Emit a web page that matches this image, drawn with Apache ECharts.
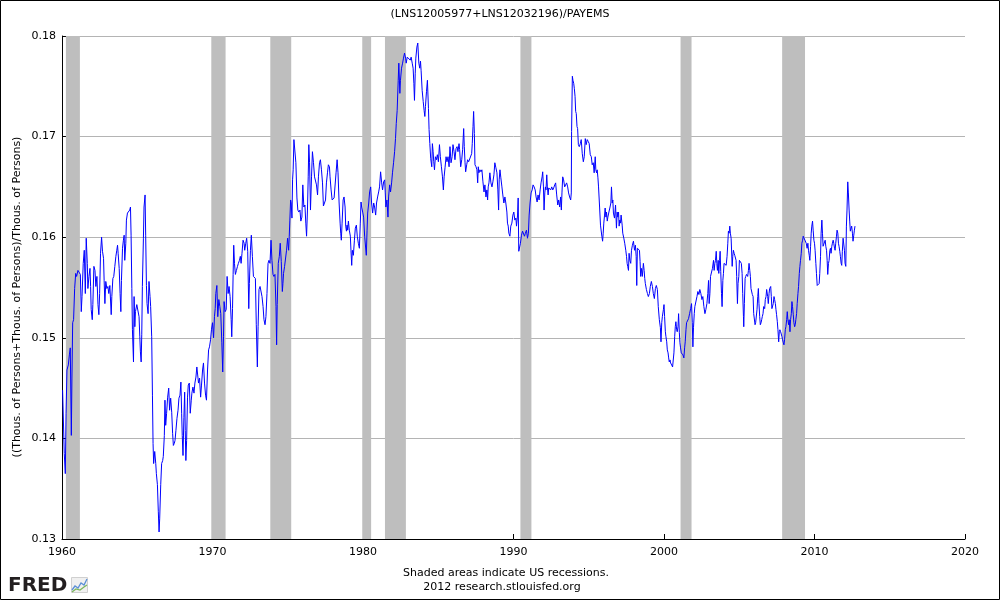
<!DOCTYPE html>
<html>
<head>
<meta charset="utf-8">
<title>(LNS12005977+LNS12032196)/PAYEMS</title>
<script src="https://cdn.jsdelivr.net/npm/echarts/dist/echarts.min.js"></script>
<style>
  html, body { margin: 0; padding: 0; background: #fff; }
  #chart { width: 1000px; height: 600px; }
</style>
</head>
<body>
<div id="chart"></div>
<script>
// ratio, [decimal year, value]
var seg1960s = [[1960.04,0.1448],[1960.15,0.1385],[1960.22,0.1365],[1960.27,0.1425],[1960.33,0.1468],[1960.42,0.1473],[1960.49,0.1483],[1960.55,0.1490],[1960.62,0.1403],[1960.66,0.1460],[1960.71,0.1515],[1960.77,0.1518],[1960.84,0.1549],[1960.91,0.1564],[1960.97,0.1561],[1961.06,0.1567],[1961.15,0.1567],[1961.22,0.1563],[1961.28,0.1526],[1961.33,0.1541],[1961.41,0.1574],[1961.48,0.1587],[1961.55,0.1544],[1961.61,0.1599],[1961.68,0.1574],[1961.72,0.1549],[1961.79,0.1561],[1961.86,0.1569],[1961.90,0.1551],[1961.94,0.1528],[1962.01,0.1518],[1962.05,0.1533],[1962.12,0.1571],[1962.19,0.1567],[1962.25,0.1551],[1962.32,0.1561],[1962.39,0.1533],[1962.45,0.1523],[1962.50,0.1544],[1962.56,0.1584],[1962.63,0.1600],[1962.69,0.1586],[1962.76,0.1579],[1962.80,0.1557],[1962.85,0.1534],[1962.91,0.1556],[1962.98,0.1549],[1963.05,0.1551],[1963.11,0.1544],[1963.18,0.1552],[1963.27,0.1523],[1963.31,0.1541],[1963.38,0.1559],[1963.44,0.1561],[1963.51,0.1571],[1963.58,0.1581],[1963.64,0.1587],[1963.69,0.1592],[1963.73,0.1584],[1963.80,0.1569],[1963.86,0.1544],[1963.91,0.1526],[1963.95,0.1557],[1964.02,0.1589],[1964.08,0.1597],[1964.13,0.1602],[1964.17,0.1577],[1964.24,0.1594],[1964.28,0.1617],[1964.35,0.1624],[1964.44,0.1624],[1964.50,0.1627],[1964.55,0.1630],[1964.59,0.1602],[1964.64,0.1549],[1964.68,0.1508],[1964.75,0.1476],[1964.79,0.1541],[1964.84,0.1511],[1964.88,0.1526],[1964.97,0.1533],[1965.06,0.1533],[1965.12,0.1521],[1965.17,0.1501],[1965.21,0.1486],[1965.26,0.1476],[1965.30,0.1503],[1965.34,0.1551],[1965.41,0.1599],[1965.45,0.1630],[1965.52,0.1642],[1965.56,0.1602],[1965.61,0.1552],[1965.65,0.1534],[1965.72,0.1524],[1965.78,0.1556],[1965.85,0.1541],[1965.89,0.1531],[1965.96,0.1501],[1966.01,0.1443],[1966.05,0.1395],[1966.09,0.1375],[1966.16,0.1387],[1966.23,0.1375],[1966.27,0.1365],[1966.34,0.1354],[1966.40,0.1327],[1966.45,0.1307],[1966.49,0.1320],[1966.56,0.1354],[1966.62,0.1375],[1966.69,0.1378],[1966.73,0.1382],[1966.80,0.1403],[1966.84,0.1438],[1966.89,0.1413],[1966.95,0.1425],[1967.02,0.1441],[1967.09,0.1450],[1967.15,0.1428],[1967.22,0.1440],[1967.29,0.1426],[1967.35,0.1405],[1967.40,0.1393],[1967.46,0.1395],[1967.51,0.1398],[1967.57,0.1408],[1967.64,0.1420],[1967.71,0.1428],[1967.77,0.1440],[1967.84,0.1443],[1967.90,0.1456],[1967.95,0.1425],[1967.99,0.1403],[1968.04,0.1383],[1968.10,0.1421],[1968.15,0.1446],[1968.19,0.1408],[1968.23,0.1378],[1968.28,0.1398],[1968.34,0.1441],[1968.39,0.1453],[1968.46,0.1455],[1968.52,0.1425],[1968.59,0.1438],[1968.63,0.1445],[1968.70,0.1451],[1968.77,0.1445],[1968.83,0.1455],[1968.90,0.1461],[1968.96,0.1471],[1969.03,0.1461],[1969.07,0.1455],[1969.14,0.1460],[1969.21,0.1441],[1969.27,0.1453],[1969.34,0.1468],[1969.40,0.1475],[1969.47,0.1455],[1969.54,0.1443],[1969.60,0.1438],[1969.67,0.1468],[1969.74,0.1488],[1969.80,0.1491],[1969.87,0.1498],[1969.93,0.1508]];

var seg1970s = [[1970.00,0.1515],[1970.07,0.1500],[1970.13,0.1521],[1970.18,0.1529],[1970.22,0.1544],[1970.29,0.1552],[1970.35,0.1521],[1970.42,0.1538],[1970.49,0.1531],[1970.55,0.1524],[1970.62,0.1495],[1970.68,0.1466],[1970.73,0.1501],[1970.77,0.1536],[1970.84,0.1526],[1970.91,0.1528],[1970.97,0.1561],[1971.04,0.1544],[1971.10,0.1551],[1971.17,0.1541],[1971.24,0.1518],[1971.28,0.1501],[1971.33,0.1529],[1971.37,0.1563],[1971.41,0.1592],[1971.46,0.1574],[1971.52,0.1563],[1971.59,0.1567],[1971.66,0.1571],[1971.72,0.1574],[1971.79,0.1577],[1971.85,0.1581],[1971.90,0.1574],[1971.96,0.1584],[1972.03,0.1597],[1972.10,0.1594],[1972.14,0.1587],[1972.21,0.1594],[1972.27,0.1599],[1972.34,0.1586],[1972.41,0.1529],[1972.45,0.1554],[1972.52,0.1587],[1972.58,0.1602],[1972.65,0.1581],[1972.72,0.1561],[1972.78,0.1561],[1972.85,0.1559],[1972.91,0.1513],[1972.98,0.1471],[1973.03,0.1511],[1973.09,0.1548],[1973.16,0.1551],[1973.22,0.1551],[1973.29,0.1541],[1973.36,0.1531],[1973.42,0.1518],[1973.49,0.1513],[1973.55,0.1521],[1973.62,0.1544],[1973.69,0.1574],[1973.75,0.1577],[1973.82,0.1574],[1973.89,0.1597],[1973.95,0.1577],[1974.02,0.1563],[1974.08,0.1561],[1974.15,0.1563],[1974.22,0.1531],[1974.26,0.1493],[1974.30,0.1533],[1974.37,0.1574],[1974.44,0.1581],[1974.50,0.1594],[1974.57,0.1576],[1974.64,0.1546],[1974.68,0.1554],[1974.72,0.1564],[1974.79,0.1571],[1974.86,0.1572],[1974.92,0.1587],[1974.99,0.1599],[1975.06,0.1587],[1975.10,0.1601],[1975.14,0.1617],[1975.19,0.1637],[1975.23,0.1634],[1975.28,0.1619],[1975.32,0.1657],[1975.36,0.1667],[1975.41,0.1697],[1975.48,0.1697],[1975.54,0.1674],[1975.61,0.1639],[1975.67,0.1627],[1975.74,0.1625],[1975.81,0.1627],[1975.87,0.1616],[1975.94,0.1620],[1976.00,0.1652],[1976.07,0.1630],[1976.14,0.1632],[1976.20,0.1614],[1976.25,0.1601],[1976.31,0.1627],[1976.36,0.1660],[1976.40,0.1692],[1976.45,0.1674],[1976.51,0.1627],[1976.58,0.1660],[1976.64,0.1685],[1976.71,0.1674],[1976.78,0.1660],[1976.84,0.1660],[1976.91,0.1652],[1976.98,0.1642],[1977.04,0.1660],[1977.11,0.1674],[1977.17,0.1677],[1977.24,0.1667],[1977.31,0.1654],[1977.37,0.1631],[1977.44,0.1632],[1977.51,0.1637],[1977.57,0.1654],[1977.64,0.1664],[1977.70,0.1672],[1977.77,0.1670],[1977.81,0.1660],[1977.88,0.1647],[1977.95,0.1637],[1978.01,0.1637],[1978.08,0.1639],[1978.15,0.1639],[1978.21,0.1664],[1978.28,0.1677],[1978.34,0.1664],[1978.41,0.1635],[1978.48,0.1614],[1978.52,0.1604],[1978.56,0.1597],[1978.61,0.1614],[1978.68,0.1637],[1978.74,0.1640],[1978.81,0.1630],[1978.85,0.1611],[1978.90,0.1606],[1978.94,0.1612],[1978.98,0.1607],[1979.03,0.1616],[1979.09,0.1607],[1979.16,0.1601],[1979.20,0.1587],[1979.25,0.1572],[1979.29,0.1587],[1979.36,0.1582],[1979.43,0.1597],[1979.49,0.1609],[1979.56,0.1612],[1979.62,0.1601],[1979.69,0.1594],[1979.76,0.1589],[1979.82,0.1614],[1979.87,0.1635],[1979.91,0.1630],[1979.98,0.1625]];

var seg1980s = [[1980.04,0.1620],[1980.11,0.1601],[1980.18,0.1601],[1980.22,0.1582],[1980.27,0.1607],[1980.31,0.1624],[1980.38,0.1634],[1980.44,0.1645],[1980.51,0.1650],[1980.57,0.1634],[1980.64,0.1624],[1980.71,0.1634],[1980.77,0.1630],[1980.84,0.1622],[1980.90,0.1634],[1980.97,0.1640],[1981.04,0.1645],[1981.10,0.1650],[1981.17,0.1665],[1981.24,0.1654],[1981.30,0.1647],[1981.37,0.1655],[1981.44,0.1657],[1981.48,0.1644],[1981.52,0.1630],[1981.59,0.1637],[1981.66,0.1620],[1981.70,0.1640],[1981.77,0.1652],[1981.83,0.1645],[1981.90,0.1654],[1981.96,0.1664],[1982.03,0.1674],[1982.10,0.1685],[1982.16,0.1698],[1982.21,0.1713],[1982.27,0.1726],[1982.34,0.1756],[1982.38,0.1773],[1982.45,0.1743],[1982.49,0.1756],[1982.56,0.1768],[1982.63,0.1773],[1982.69,0.1778],[1982.76,0.1783],[1982.83,0.1778],[1982.87,0.1773],[1982.94,0.1779],[1983.00,0.1778],[1983.07,0.1779],[1983.14,0.1776],[1983.20,0.1779],[1983.27,0.1773],[1983.33,0.1768],[1983.38,0.1753],[1983.42,0.1736],[1983.47,0.1763],[1983.51,0.1778],[1983.58,0.1789],[1983.64,0.1793],[1983.71,0.1773],[1983.77,0.1768],[1983.82,0.1775],[1983.86,0.1766],[1983.93,0.1746],[1984.00,0.1735],[1984.06,0.1726],[1984.11,0.1720],[1984.15,0.1730],[1984.22,0.1745],[1984.28,0.1756],[1984.35,0.1728],[1984.39,0.1707],[1984.44,0.1693],[1984.50,0.1678],[1984.57,0.1670],[1984.61,0.1693],[1984.66,0.1685],[1984.70,0.1675],[1984.75,0.1667],[1984.81,0.1680],[1984.88,0.1677],[1984.94,0.1682],[1985.01,0.1675],[1985.08,0.1692],[1985.14,0.1680],[1985.21,0.1670],[1985.28,0.1660],[1985.34,0.1647],[1985.39,0.1660],[1985.45,0.1669],[1985.52,0.1680],[1985.58,0.1675],[1985.65,0.1680],[1985.72,0.1670],[1985.78,0.1690],[1985.85,0.1674],[1985.92,0.1680],[1985.98,0.1692],[1986.05,0.1685],[1986.11,0.1677],[1986.18,0.1688],[1986.25,0.1690],[1986.31,0.1685],[1986.38,0.1693],[1986.42,0.1687],[1986.49,0.1670],[1986.56,0.1677],[1986.62,0.1687],[1986.69,0.1708],[1986.73,0.1690],[1986.78,0.1674],[1986.82,0.1665],[1986.89,0.1672],[1986.95,0.1677],[1987.02,0.1675],[1987.09,0.1674],[1987.15,0.1675],[1987.22,0.1683],[1987.26,0.1693],[1987.31,0.1710],[1987.35,0.1725],[1987.40,0.1703],[1987.44,0.1672],[1987.51,0.1670],[1987.57,0.1667],[1987.62,0.1654],[1987.66,0.1670],[1987.70,0.1664],[1987.77,0.1667],[1987.84,0.1665],[1987.90,0.1667],[1987.97,0.1655],[1988.04,0.1645],[1988.10,0.1652],[1988.17,0.1640],[1988.23,0.1647],[1988.28,0.1637],[1988.32,0.1650],[1988.37,0.1654],[1988.43,0.1664],[1988.50,0.1654],[1988.57,0.1650],[1988.63,0.1655],[1988.70,0.1662],[1988.76,0.1674],[1988.83,0.1669],[1988.90,0.1664],[1988.96,0.1647],[1989.01,0.1627],[1989.05,0.1657],[1989.10,0.1667],[1989.16,0.1659],[1989.23,0.1650],[1989.29,0.1642],[1989.36,0.1634],[1989.43,0.1640],[1989.49,0.1634],[1989.56,0.1625],[1989.60,0.1614],[1989.65,0.1611],[1989.69,0.1604],[1989.76,0.1601],[1989.82,0.1611],[1989.89,0.1614],[1989.96,0.1622]];

var seg1990s = [[1990.02,0.1625],[1990.09,0.1617],[1990.16,0.1619],[1990.20,0.1611],[1990.27,0.1622],[1990.31,0.1639],[1990.35,0.1586],[1990.40,0.1587],[1990.46,0.1594],[1990.53,0.1602],[1990.60,0.1606],[1990.66,0.1606],[1990.73,0.1601],[1990.79,0.1604],[1990.86,0.1607],[1990.93,0.1599],[1990.99,0.1604],[1991.04,0.1622],[1991.10,0.1634],[1991.17,0.1644],[1991.24,0.1647],[1991.30,0.1652],[1991.37,0.1650],[1991.44,0.1647],[1991.50,0.1640],[1991.57,0.1635],[1991.63,0.1642],[1991.70,0.1637],[1991.77,0.1647],[1991.83,0.1654],[1991.90,0.1660],[1991.94,0.1665],[1991.99,0.1650],[1992.03,0.1627],[1992.08,0.1644],[1992.12,0.1650],[1992.16,0.1647],[1992.21,0.1662],[1992.25,0.1650],[1992.30,0.1642],[1992.34,0.1649],[1992.41,0.1650],[1992.47,0.1647],[1992.54,0.1650],[1992.61,0.1647],[1992.67,0.1649],[1992.74,0.1652],[1992.80,0.1654],[1992.87,0.1642],[1992.94,0.1632],[1993.00,0.1637],[1993.07,0.1630],[1993.13,0.1640],[1993.18,0.1627],[1993.22,0.1644],[1993.27,0.1660],[1993.33,0.1657],[1993.40,0.1650],[1993.47,0.1650],[1993.53,0.1654],[1993.60,0.1650],[1993.66,0.1644],[1993.73,0.1640],[1993.80,0.1637],[1993.84,0.1644],[1993.86,0.1705],[1993.91,0.1760],[1993.95,0.1756],[1994.00,0.1753],[1994.04,0.1748],[1994.09,0.1740],[1994.13,0.1725],[1994.17,0.1723],[1994.22,0.1710],[1994.26,0.1708],[1994.31,0.1692],[1994.37,0.1690],[1994.44,0.1693],[1994.50,0.1697],[1994.57,0.1683],[1994.64,0.1675],[1994.70,0.1680],[1994.77,0.1698],[1994.83,0.1692],[1994.90,0.1697],[1994.97,0.1695],[1995.03,0.1693],[1995.10,0.1682],[1995.17,0.1680],[1995.23,0.1672],[1995.30,0.1674],[1995.36,0.1664],[1995.43,0.1680],[1995.47,0.1667],[1995.52,0.1664],[1995.56,0.1667],[1995.61,0.1659],[1995.65,0.1650],[1995.72,0.1630],[1995.78,0.1612],[1995.83,0.1611],[1995.87,0.1601],[1995.92,0.1596],[1995.96,0.1604],[1996.00,0.1614],[1996.05,0.1622],[1996.09,0.1629],[1996.14,0.1620],[1996.18,0.1625],[1996.23,0.1616],[1996.27,0.1620],[1996.34,0.1625],[1996.40,0.1629],[1996.47,0.1634],[1996.51,0.1650],[1996.56,0.1634],[1996.60,0.1637],[1996.64,0.1624],[1996.71,0.1619],[1996.78,0.1632],[1996.84,0.1609],[1996.89,0.1625],[1996.93,0.1620],[1996.98,0.1625],[1997.02,0.1611],[1997.06,0.1617],[1997.11,0.1614],[1997.15,0.1622],[1997.22,0.1612],[1997.26,0.1604],[1997.33,0.1599],[1997.39,0.1594],[1997.46,0.1587],[1997.51,0.1581],[1997.55,0.1574],[1997.59,0.1571],[1997.64,0.1567],[1997.68,0.1584],[1997.73,0.1577],[1997.79,0.1574],[1997.84,0.1587],[1997.90,0.1592],[1997.97,0.1596],[1998.04,0.1587],[1998.10,0.1592],[1998.15,0.1581],[1998.19,0.1552],[1998.23,0.1589],[1998.30,0.1589],[1998.37,0.1587],[1998.41,0.1576],[1998.45,0.1561],[1998.50,0.1569],[1998.56,0.1561],[1998.63,0.1574],[1998.68,0.1567],[1998.72,0.1559],[1998.76,0.1554],[1998.83,0.1548],[1998.90,0.1544],[1998.96,0.1541],[1999.03,0.1544],[1999.09,0.1551],[1999.16,0.1556],[1999.23,0.1551],[1999.29,0.1544],[1999.36,0.1539],[1999.43,0.1549],[1999.49,0.1552],[1999.56,0.1548],[1999.62,0.1531],[1999.69,0.1518],[1999.76,0.1510],[1999.80,0.1496],[1999.85,0.1515],[1999.89,0.1521],[1999.96,0.1528]];

var seg2000s = [[2000.00,0.1533],[2000.04,0.1521],[2000.09,0.1506],[2000.13,0.1501],[2000.18,0.1496],[2000.22,0.1488],[2000.27,0.1485],[2000.31,0.1480],[2000.35,0.1476],[2000.40,0.1478],[2000.44,0.1475],[2000.51,0.1473],[2000.57,0.1471],[2000.62,0.1470],[2000.66,0.1485],[2000.71,0.1501],[2000.75,0.1511],[2000.79,0.1516],[2000.84,0.1508],[2000.88,0.1506],[2000.93,0.1511],[2000.97,0.1524],[2001.02,0.1505],[2001.06,0.1495],[2001.10,0.1490],[2001.15,0.1485],[2001.19,0.1486],[2001.26,0.1483],[2001.32,0.1480],[2001.37,0.1490],[2001.41,0.1496],[2001.46,0.1508],[2001.50,0.1515],[2001.57,0.1516],[2001.63,0.1519],[2001.70,0.1524],[2001.77,0.1529],[2001.83,0.1534],[2001.88,0.1515],[2001.92,0.1491],[2001.96,0.1510],[2002.01,0.1524],[2002.05,0.1531],[2002.12,0.1531],[2002.19,0.1541],[2002.25,0.1546],[2002.32,0.1543],[2002.38,0.1548],[2002.45,0.1544],[2002.52,0.1538],[2002.58,0.1541],[2002.65,0.1531],[2002.72,0.1524],[2002.78,0.1528],[2002.85,0.1534],[2002.91,0.1544],[2002.96,0.1557],[2003.00,0.1534],[2003.05,0.1544],[2003.09,0.1561],[2003.16,0.1561],[2003.22,0.1569],[2003.29,0.1577],[2003.33,0.1567],[2003.38,0.1574],[2003.42,0.1577],[2003.47,0.1586],[2003.51,0.1574],[2003.55,0.1567],[2003.60,0.1577],[2003.64,0.1564],[2003.69,0.1577],[2003.73,0.1586],[2003.77,0.1566],[2003.82,0.1544],[2003.86,0.1531],[2003.91,0.1557],[2003.95,0.1564],[2003.99,0.1574],[2004.06,0.1574],[2004.13,0.1572],[2004.19,0.1581],[2004.24,0.1594],[2004.28,0.1606],[2004.33,0.1604],[2004.37,0.1611],[2004.41,0.1604],[2004.46,0.1599],[2004.53,0.1571],[2004.57,0.1581],[2004.61,0.1587],[2004.66,0.1584],[2004.70,0.1582],[2004.75,0.1581],[2004.79,0.1577],[2004.83,0.1561],[2004.88,0.1534],[2004.92,0.1554],[2004.97,0.1561],[2005.01,0.1577],[2005.06,0.1577],[2005.10,0.1576],[2005.14,0.1574],[2005.19,0.1564],[2005.23,0.1544],[2005.28,0.1521],[2005.30,0.1511],[2005.34,0.1534],[2005.39,0.1559],[2005.43,0.1561],[2005.48,0.1563],[2005.52,0.1564],[2005.56,0.1561],[2005.61,0.1567],[2005.65,0.1574],[2005.70,0.1567],[2005.74,0.1561],[2005.78,0.1549],[2005.83,0.1548],[2005.87,0.1543],[2005.92,0.1541],[2005.96,0.1524],[2006.00,0.1523],[2006.05,0.1513],[2006.09,0.1515],[2006.14,0.1515],[2006.18,0.1528],[2006.23,0.1541],[2006.27,0.1549],[2006.31,0.1534],[2006.36,0.1521],[2006.40,0.1513],[2006.45,0.1515],[2006.49,0.1518],[2006.53,0.1521],[2006.58,0.1524],[2006.62,0.1531],[2006.69,0.1529],[2006.73,0.1538],[2006.78,0.1541],[2006.82,0.1548],[2006.89,0.1541],[2006.93,0.1534],[2006.98,0.1544],[2007.02,0.1549],[2007.09,0.1551],[2007.13,0.1541],[2007.17,0.1529],[2007.22,0.1528],[2007.26,0.1534],[2007.31,0.1541],[2007.35,0.1538],[2007.40,0.1534],[2007.44,0.1528],[2007.48,0.1523],[2007.53,0.1516],[2007.57,0.1508],[2007.62,0.1496],[2007.66,0.1506],[2007.70,0.1508],[2007.75,0.1506],[2007.79,0.1505],[2007.84,0.1501],[2007.88,0.1498],[2007.93,0.1495],[2007.97,0.1493],[2008.01,0.1498],[2008.06,0.1508],[2008.10,0.1511],[2008.15,0.1518],[2008.19,0.1526],[2008.23,0.1518],[2008.28,0.1513],[2008.32,0.1518],[2008.37,0.1506],[2008.41,0.1518],[2008.46,0.1524],[2008.50,0.1536],[2008.54,0.1531],[2008.59,0.1523],[2008.63,0.1515],[2008.68,0.1511],[2008.72,0.1513],[2008.76,0.1518],[2008.81,0.1524],[2008.85,0.1534],[2008.90,0.1544],[2008.94,0.1551],[2008.99,0.1564],[2009.03,0.1571],[2009.07,0.1577],[2009.12,0.1584],[2009.16,0.1594],[2009.21,0.1597],[2009.25,0.1601],[2009.32,0.1602],[2009.38,0.1601],[2009.45,0.1594],[2009.51,0.1589],[2009.56,0.1594],[2009.60,0.1587],[2009.65,0.1582],[2009.69,0.1577],[2009.74,0.1591],[2009.78,0.1604],[2009.82,0.1611],[2009.87,0.1616],[2009.91,0.1607],[2009.96,0.1597],[2010.00,0.1594],[2010.04,0.1587],[2010.09,0.1574],[2010.13,0.1564],[2010.18,0.1552],[2010.22,0.1551],[2010.27,0.1551],[2010.31,0.1554],[2010.35,0.1564],[2010.40,0.1581],[2010.44,0.1604],[2010.49,0.1617],[2010.53,0.1604],[2010.57,0.1591],[2010.62,0.1591],[2010.66,0.1592],[2010.71,0.1597],[2010.75,0.1591],[2010.80,0.1587],[2010.84,0.1577],[2010.88,0.1563],[2010.93,0.1574],[2010.97,0.1577],[2011.02,0.1587],[2011.06,0.1589],[2011.10,0.1584],[2011.15,0.1591],[2011.19,0.1594],[2011.24,0.1597],[2011.28,0.1594],[2011.33,0.1589],[2011.37,0.1587],[2011.41,0.1594],[2011.46,0.1601],[2011.50,0.1607],[2011.55,0.1604],[2011.59,0.1594],[2011.63,0.1591],[2011.68,0.1586],[2011.72,0.1581],[2011.77,0.1574],[2011.81,0.1572],[2011.85,0.1586],[2011.90,0.1599],[2011.94,0.1599],[2011.99,0.1587],[2012.03,0.1574],[2012.08,0.1571],[2012.12,0.1611],[2012.16,0.1627],[2012.21,0.1655],[2012.25,0.1644],[2012.30,0.1627],[2012.34,0.1616],[2012.38,0.1606],[2012.43,0.1609],[2012.47,0.1611],[2012.52,0.1604],[2012.56,0.1596],[2012.61,0.1602],[2012.65,0.1607],[2012.69,0.1611]];

// US recessions (start, end) as shaded on the graph
var recessions = [[1960.26,1961.19],[1969.92,1970.87],[1973.84,1975.23],[1979.95,1980.54],[1981.46,1982.85],[1990.46,1991.19],[2001.10,2001.83],[2007.85,2009.37]];

var chartTitle = '(LNS12005977+LNS12032196)/PAYEMS';
var yName = '((Thous. of Persons+Thous. of Persons)/Thous. of Persons)';
var note1 = 'Shaded areas indicate US recessions.';
var note2 = '2012 research.stlouisfed.org';

var labelFont = '"DejaVu Sans", Verdana, sans-serif';

var myChart = echarts.init(document.getElementById('chart'));
myChart.setOption({
    animation: false,
    backgroundColor: '#fff',
    title: {
        text: chartTitle,
        left: 'center',
        top: 4,
        textStyle: {fontSize: 11, fontWeight: 'normal', color: '#000', fontFamily: labelFont}
    },
    grid: {left: 62, right: 35, top: 36, bottom: 61},
    xAxis: {
        type: 'value',
        min: 1960,
        max: 2020,
        interval: 10,
        axisLine: {lineStyle: {color: '#000', width: 1}},
        axisTick: {inside: true, length: 5, lineStyle: {color: '#000'}},
        axisLabel: {
            color: '#000', fontSize: 11, margin: 8, fontFamily: labelFont,
            formatter: function (v) { return String(v); }
        },
        splitLine: {show: false}
    },
    yAxis: {
        type: 'value',
        min: 0.13,
        max: 0.18,
        interval: 0.01,
        axisLine: {show: true, lineStyle: {color: '#000', width: 1}},
        axisTick: {show: true, inside: true, length: 5, lineStyle: {color: '#000'}},
        axisLabel: {
            color: '#000', fontSize: 11, margin: 6, fontFamily: labelFont,
            formatter: function (v) { return v.toFixed(2); }
        },
        splitLine: {lineStyle: {color: '#b4b4b4', width: 1}}
    },
    series: [{
        type: 'line',
        data: seg1960s.concat(seg1970s, seg1980s, seg1990s, seg2000s),
        symbol: 'none',
        lineStyle: {color: '#0000ff', width: 1},
        itemStyle: {color: '#0000ff'},
        markArea: {
            silent: true,
            itemStyle: {color: '#bebebe', opacity: 1},
            data: recessions.map(function (r) {
                return [{xAxis: r[0]}, {xAxis: r[1]}];
            })
        }
    }],
    graphic: [
        {
            type: 'rect',
            shape: {x: 0.5, y: 0.5, width: 999, height: 599},
            style: {fill: 'none', stroke: '#000', lineWidth: 1},
            silent: true
        },
        {
            type: 'text',
            x: 17,
            y: 297,
            rotation: Math.PI / 2,
            style: {text: yName, fill: '#000', fontSize: 11, fontFamily: labelFont, align: 'center', verticalAlign: 'middle'}
        },
        {
            type: 'text',
            x: 506,
            y: 573,
            style: {text: note1, fill: '#000', fontSize: 11, fontFamily: labelFont, align: 'center', verticalAlign: 'middle'}
        },
        {
            type: 'text',
            x: 502,
            y: 587,
            style: {text: note2, fill: '#000', fontSize: 11, fontFamily: labelFont, align: 'center', verticalAlign: 'middle'}
        },
        {
            type: 'text',
            x: 8,
            y: 586,
            style: {text: 'FRED', fill: '#231f20', fontSize: 20, fontWeight: 'bold', fontFamily: '"DejaVu Sans", sans-serif', verticalAlign: 'middle'}
        },
        {
            type: 'rect',
            shape: {x: 71.5, y: 577.5, width: 16, height: 15},
            style: {fill: '#f0f0f0', stroke: '#d0d0d0', lineWidth: 1}
        },
        {
            type: 'polyline',
            shape: {points: [[72, 590], [75, 586], [78, 588], [81, 583], [84, 585], [87, 579]]},
            style: {stroke: '#5b8fd6', lineWidth: 1.3, fill: 'none'}
        },
        {
            type: 'polyline',
            shape: {points: [[72, 592], [76, 589], [80, 590], [84, 587], [87, 585]]},
            style: {stroke: '#7bb65a', lineWidth: 1.2, fill: 'none'}
        }
    ]
});
</script>
</body>
</html>
